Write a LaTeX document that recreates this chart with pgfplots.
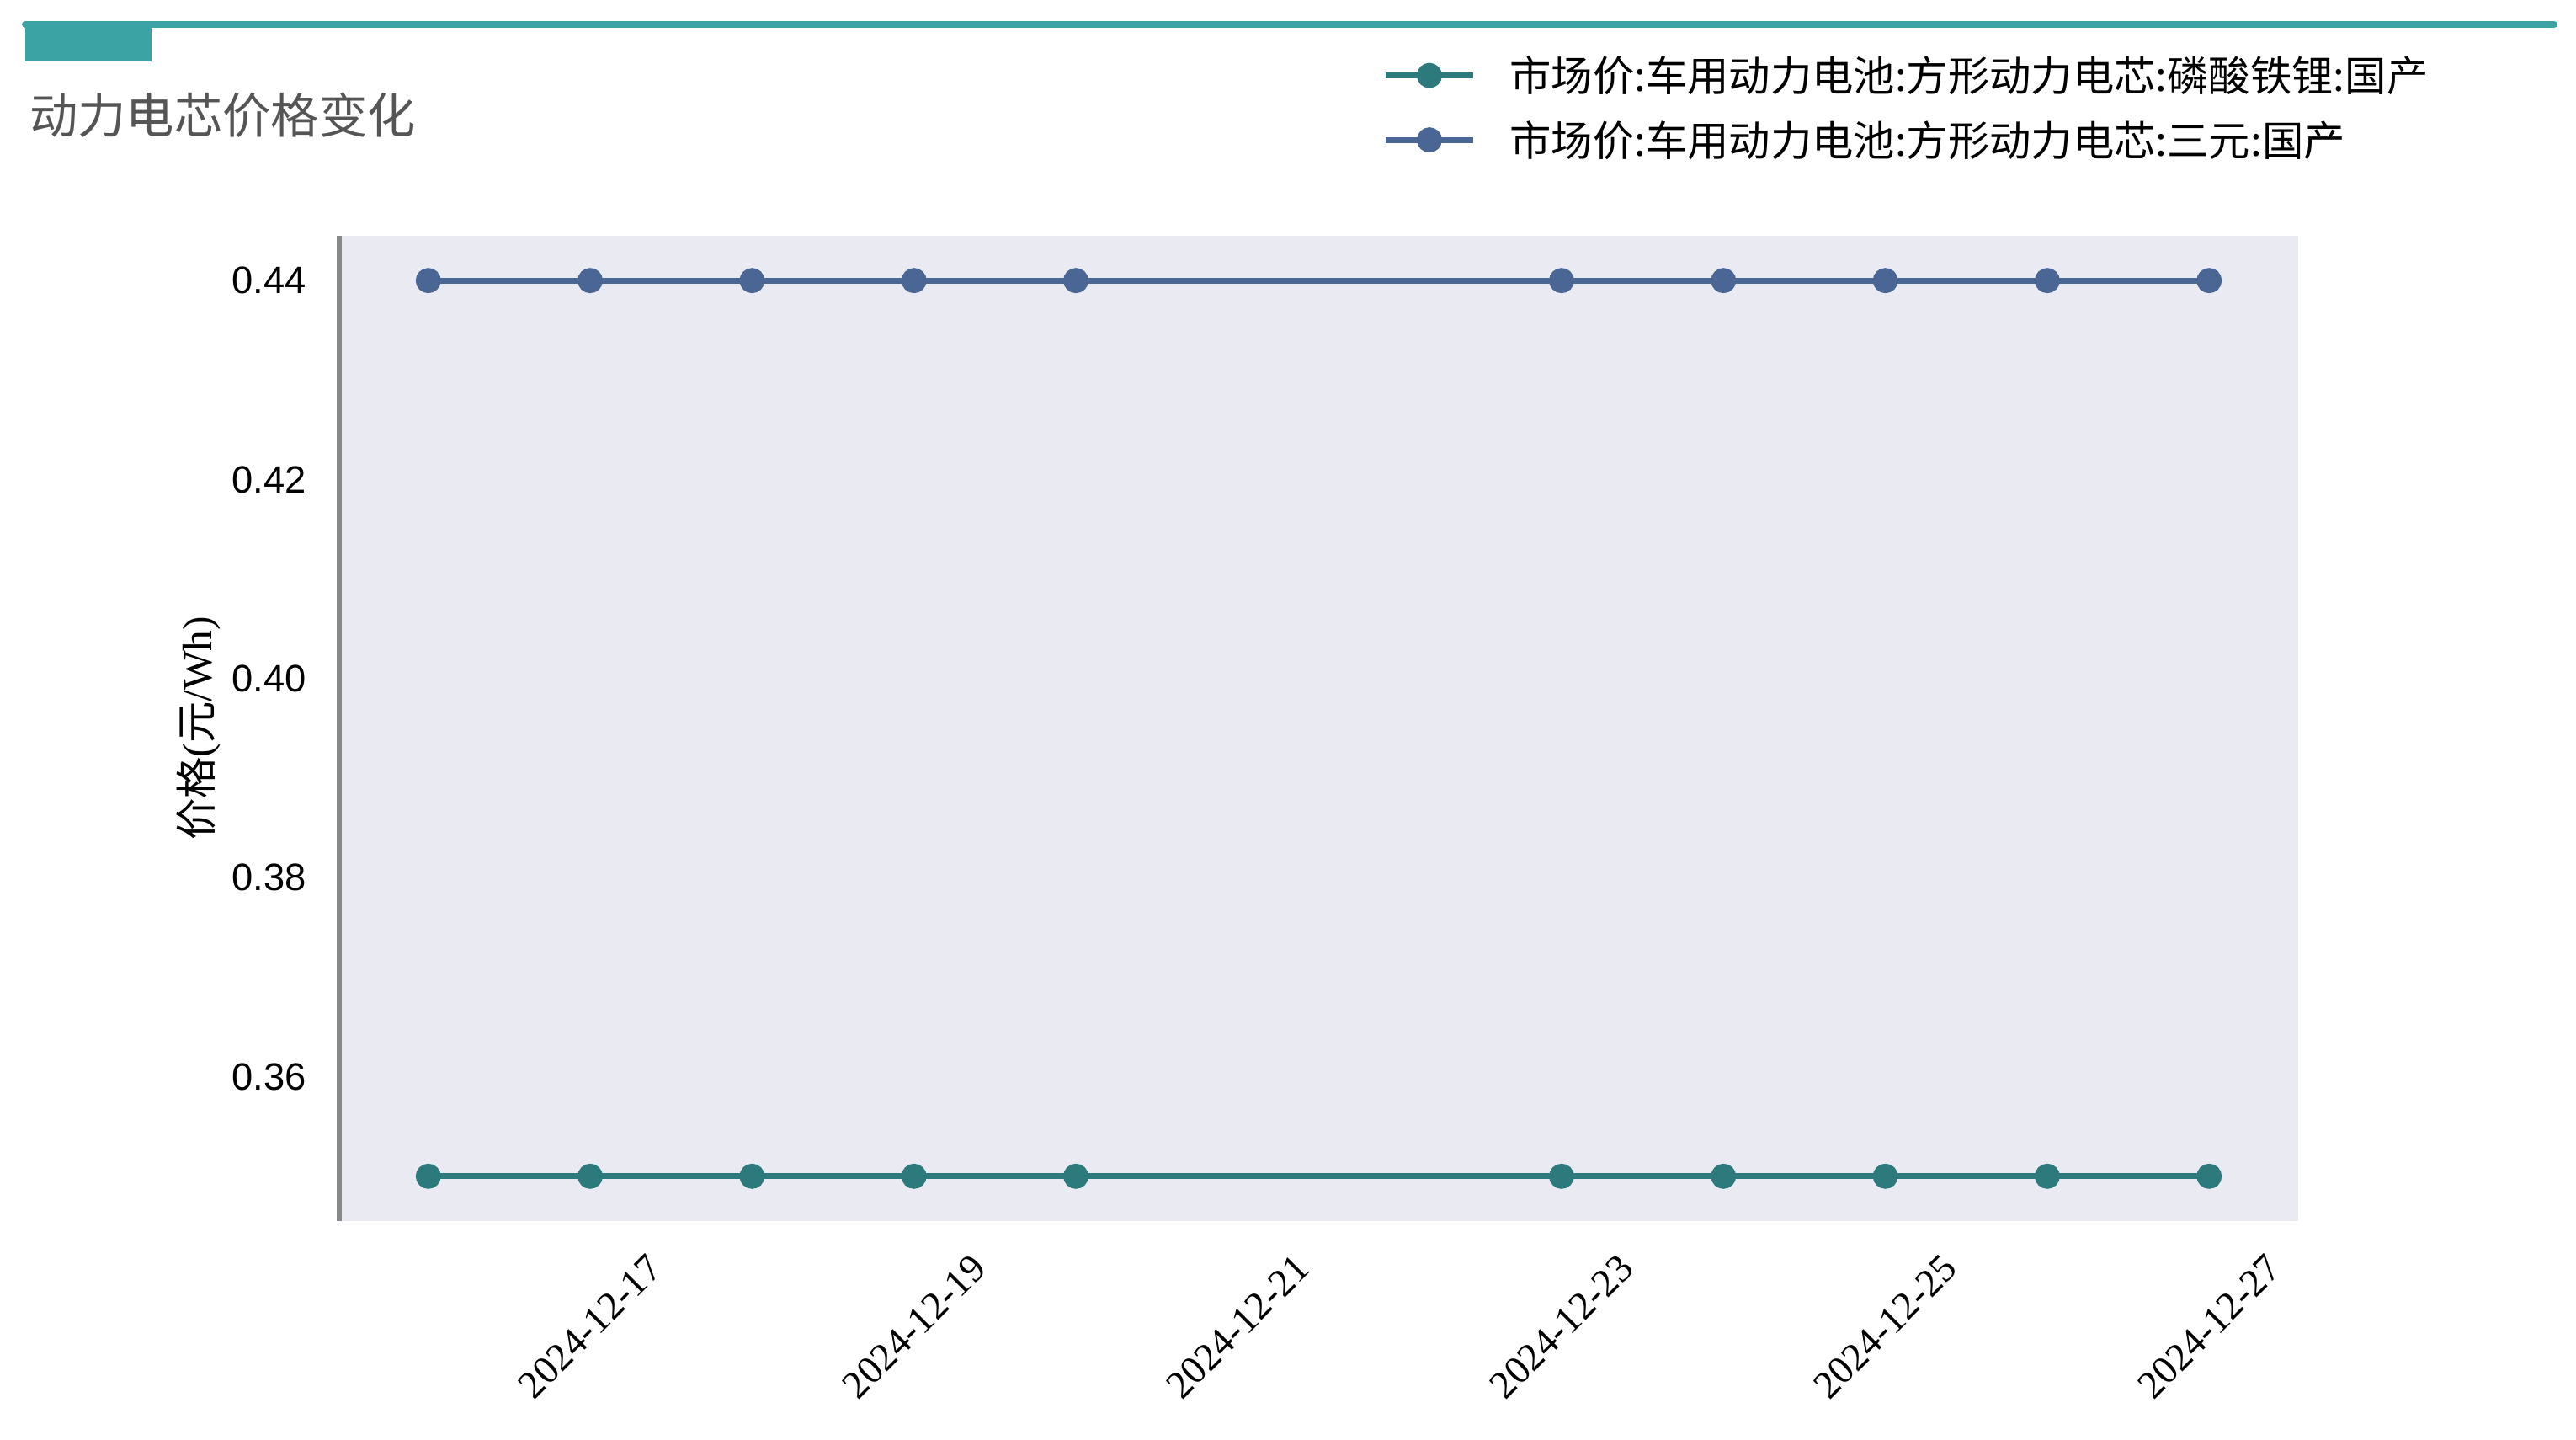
\documentclass[border=0pt]{standalone}
\usepackage{fontspec}
\setmainfont{Liberation Serif}
\newfontfamily\cjk{Noto Sans CJK SC}
\newfontfamily\sans{Liberation Sans}
\usepackage{pgfplots}
\pgfplotsset{compat=1.18}
\definecolor{lfp}{HTML}{2C7A7C}
\definecolor{ncm}{HTML}{4A6694}
\definecolor{barc}{HTML}{3CA3A5}
\definecolor{bgc}{HTML}{EAEAF2}
\definecolor{spine}{HTML}{888888}
\definecolor{titleg}{HTML}{555555}

\begin{document}
\begin{tikzpicture}
\path[use as bounding box] (0,0) rectangle (1147.5pt,640.875pt);
% header bar and title
\draw[barc, line width=3pt, line cap=round] (11.25pt,630pt) -- (1137.75pt,630pt);
\fill[barc] (11.25pt,613.5pt) rectangle (67.5pt,631.5pt);
\node[anchor=west, inner sep=0pt, text=titleg, font=\cjk\fontsize{21.5}{25}\selectfont] at (13pt,589.5pt) {动力电芯价格变化};

\begin{axis}[
  at={(151.125pt,97.125pt)}, anchor=south west,
  width=872.625pt, height=438.75pt, scale only axis,
  xmin=-0.55, xmax=11.55, ymin=0.3455, ymax=0.4445,
  axis background/.style={fill=bgc},
  axis y line*=left, axis x line*=bottom,
  x axis line style={draw=none},
  y axis line style={-, draw=spine, line width=1.9pt},
  major tick length=0pt,
  xtick={1,3,5,7,9,11},
  xticklabels={2024-12-17,2024-12-19,2024-12-21,2024-12-23,2024-12-25,2024-12-27},
  xticklabel style={font=\fontsize{17.5}{21}\selectfont, yshift=-47pt, rotate=45, anchor=center},
  ytick={0.36,0.38,0.40,0.42,0.44},
  yticklabels={0.36,0.38,0.40,0.42,0.44},
  yticklabel style={font=\sans\fontsize{17}{20}\selectfont, anchor=east, inner sep=0pt, xshift=-14.5pt},
  /pgf/number format/assume math mode=true,
  every axis y label/.style={at={(axis description cs:-0.0717,0.5)}, rotate=90, anchor=center},
  ylabel={{\cjk 价格}({\cjk 元}/Wh)},
  label style={font=\fontsize{18.5}{22}\selectfont},
  legend style={at={(0.529,1.13)}, anchor=west, draw=none, fill=none,
    font=\cjk\fontsize{18.5}{22}\selectfont, cells={anchor=west},
    nodes={inner sep=0pt}, row sep=11.5pt, column sep=15pt},
  legend image code/.code={\draw[mark repeat=2, mark phase=2, #1] plot coordinates {(0pt,0pt) (19.5pt,0pt) (39pt,0pt)};},
]
\addplot[lfp, line width=2.6pt, mark=*, mark size=4.3pt] coordinates {
  (0,0.35) (1,0.35) (2,0.35) (3,0.35) (4,0.35)
  (7,0.35) (8,0.35) (9,0.35) (10,0.35) (11,0.35)
};
\addlegendentry{市场价:车用动力电池:方形动力电芯:磷酸铁锂:国产}
\addplot[ncm, line width=2.6pt, mark=*, mark size=4.3pt] coordinates {
  (0,0.44) (1,0.44) (2,0.44) (3,0.44) (4,0.44)
  (7,0.44) (8,0.44) (9,0.44) (10,0.44) (11,0.44)
};
\addlegendentry{市场价:车用动力电池:方形动力电芯:三元:国产}
\end{axis}
\end{tikzpicture}
\end{document}
